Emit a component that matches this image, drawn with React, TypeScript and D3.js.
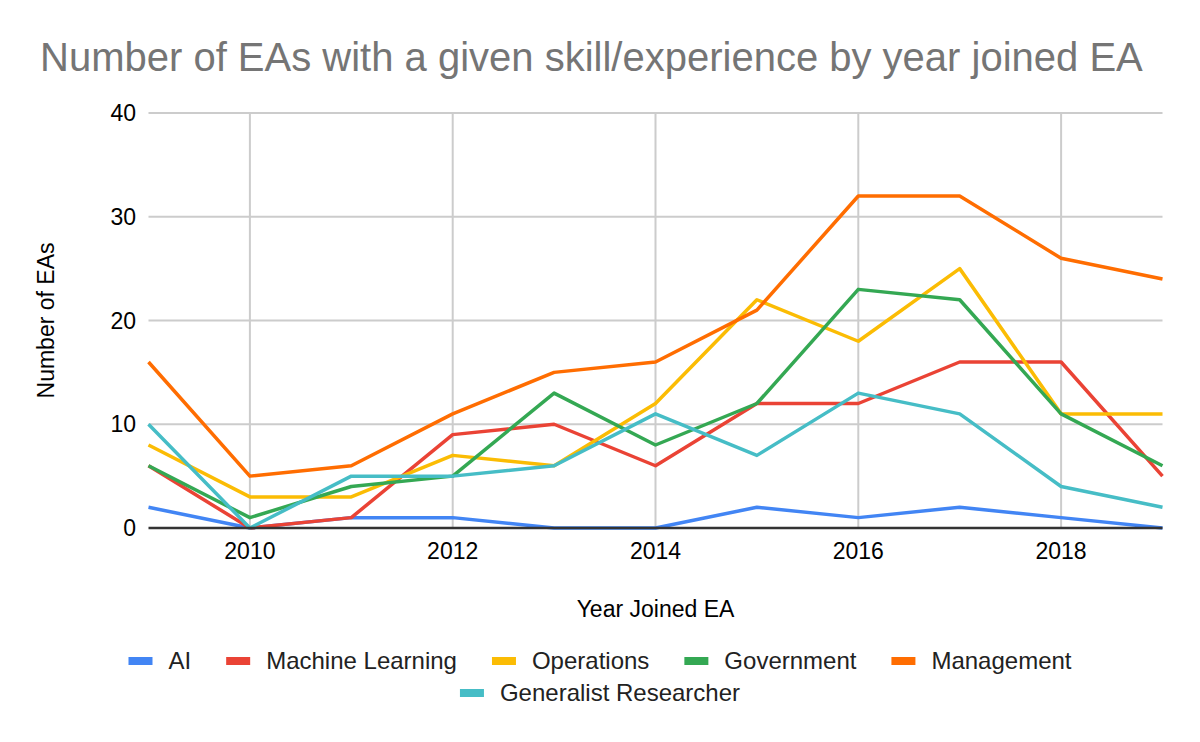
import React from "react";
import * as d3 from "d3";

const years = [2009, 2010, 2011, 2012, 2013, 2014, 2015, 2016, 2017, 2018, 2019];
const xTicks = [2010, 2012, 2014, 2016, 2018];
const yTicks = [0, 10, 20, 30, 40];

const seriesNames = ["AI", "Machine Learning", "Operations", "Government", "Management", "Generalist Researcher"];
const seriesColors = ["#4285F4", "#EA4335", "#FBBC04", "#34A853", "#FF6D01", "#46BDC6"];

const aiValues = [2, 0, 1, 1, 0, 0, 2, 1, 2, 1, 0];
const mlValues = [6, 0, 1, 9, 10, 6, 12, 12, 16, 16, 5];
const opsValues = [8, 3, 3, 7, 6, 12, 22, 18, 25, 11, 11];
const govValues = [6, 1, 4, 5, 13, 8, 12, 23, 22, 11, 6];
const mgmtValues = [16, 5, 6, 11, 15, 16, 21, 32, 32, 26, 24];
const genValues = [10, 0, 5, 5, 6, 11, 7, 13, 11, 4, 2];

const allValues = [aiValues, mlValues, opsValues, govValues, mgmtValues, genValues];

const FONT = "'Liberation Sans', Arial, sans-serif";

function measure(text: string, size: number) {
  const c = document.createElement("canvas");
  const ctx = c.getContext("2d")!;
  ctx.font = `${size}px ${FONT}`;
  return ctx.measureText(text).width;
}

export default function App() {
  const W = 1200, H = 742;
  const left = 148.5, right = 1162.5, top = 113, bottom = 528;
  const x = d3.scaleLinear().domain([2009, 2019]).range([left, right]);
  const y = d3.scaleLinear().domain([0, 40]).range([bottom, top]);
  const line = d3.line<number>().x((_, i) => x(years[i])).y((d) => y(d));

  const legendSize = 24;
  const swatchW = 24, swatchGap = 16, itemGap = 35;
  const rows = [[0, 1, 2, 3, 4], [5]];
  const rowYs = [661, 693];

  return (
    <div style={{ position: "absolute", left: 0, top: 0 }}>
      <svg width={W} height={H} style={{ display: "block", background: "#fff" }} fontFamily={FONT}>
        <text x={40} y={71} fontSize={40} fill="#757575">
          Number of EAs with a given skill/experience by year joined EA
        </text>
        {yTicks.map((t) => (
          <g key={"y" + t}>
            {t !== 0 && <line x1={left} x2={right} y1={y(t)} y2={y(t)} stroke="#cccccc" strokeWidth={2} />}
            <text x={136} y={y(t) + 8} textAnchor="end" fontSize={23} fill="#000">{t}</text>
          </g>
        ))}
        {xTicks.map((t) => (
          <g key={"x" + t}>
            <line x1={x(t)} x2={x(t)} y1={top} y2={bottom} stroke="#cccccc" strokeWidth={2} />
            <text x={x(t)} y={559} textAnchor="middle" fontSize={23} fill="#000">{t}</text>
          </g>
        ))}
        {allValues.map((vals, i) => (
          <path key={seriesNames[i]} d={line(vals)!} fill="none" stroke={seriesColors[i]} strokeWidth={3.5} strokeLinejoin="round" />
        ))}
        <line x1={left} x2={right} y1={bottom} y2={bottom} stroke="#333333" strokeWidth={2.5} />
        <text x={(left + right) / 2} y={617} textAnchor="middle" fontSize={23} fill="#000">Year Joined EA</text>
        <text transform={`translate(54, ${(top + bottom) / 2}) rotate(-90)`} textAnchor="middle" fontSize={23} fill="#000">Number of EAs</text>
        {rows.map((row, ri) => {
          const widths = row.map((i) => swatchW + swatchGap + measure(seriesNames[i], legendSize));
          const total = widths.reduce((a, b) => a + b, 0) + itemGap * (row.length - 1);
          let cx = 600 - total / 2;
          return row.map((i, k) => {
            const x0 = cx;
            cx += widths[k] + itemGap;
            return (
              <g key={"lg" + i}>
                <rect x={x0} y={rowYs[ri] - 4} width={swatchW} height={8} fill={seriesColors[i]} />
                <text x={x0 + swatchW + swatchGap} y={rowYs[ri] + 8} fontSize={legendSize} fill="#222">{seriesNames[i]}</text>
              </g>
            );
          });
        })}
      </svg>
    </div>
  );
}
